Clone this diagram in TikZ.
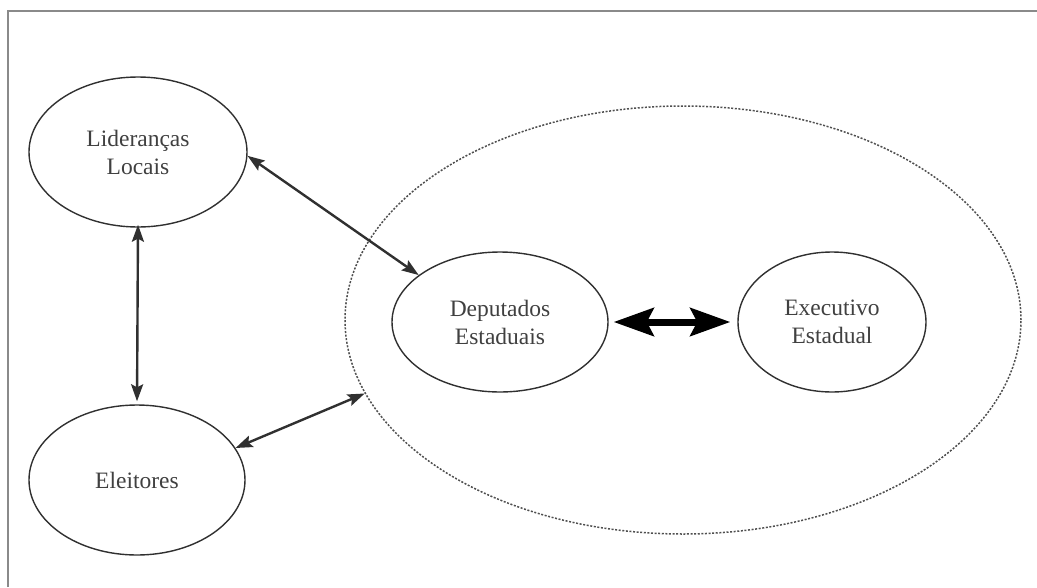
\documentclass[tikz,border=0pt]{standalone}
\usepackage{fontspec}
\setmainfont{Liberation Serif}
\usetikzlibrary{shapes.geometric,arrows.meta}
\definecolor{ink}{HTML}{303030}
\definecolor{txt}{HTML}{404040}
\definecolor{frame}{HTML}{8A8A8A}
\tikzset{
    actor/.style={ellipse, draw=ink, line width=1.4pt, inner sep=0pt, align=center,
        text=txt, font=\fontsize{23.5}{28}\selectfont},
    link/.style={{Stealth[length=17pt,width=12pt,inset=3pt]}-{Stealth[length=17pt,width=12pt,inset=3pt]},
        draw=ink, line width=2.4pt},
    biglink/.style={{Stealth[length=40pt,width=28pt,inset=7pt]}-{Stealth[length=40pt,width=28pt,inset=7pt]},
        draw=black, line width=7pt}
}
\begin{document}
\begin{tikzpicture}[x=1pt,y=-1pt]
            \useasboundingbox (0,0) rectangle (1037,587);
            \draw[frame, line width=2pt] (8,587) -- (8,11) -- (1037,11);

            \node[ellipse, draw=ink!85, dash pattern=on 2pt off 1.6pt, line width=1.5pt, minimum width=676pt, minimum height=428pt] (Grp) at (683,320) {};
            \node[actor, minimum width=218pt, minimum height=150pt] (LL) at (138,152) {Lideranças\\Locais};
            \node[actor, minimum width=216pt, minimum height=150pt] (EL) at (137,480) {Eleitores};
            \node[actor, minimum width=216pt, minimum height=140pt] (DE) at (500,322) {Deputados\\Estaduais};
            \node[actor, minimum width=188pt, minimum height=140pt] (EX) at (832,322) {Executivo\\Estadual};

            \draw (LL.-2) edge[link] (DE.150);
            \draw (LL.south) edge[link, shorten <=-3pt, shorten >=3pt] (EL.north);
            \draw (EL.18) edge[link] (Grp.193);
            \draw (DE.east) edge[biglink, shorten <=5pt, shorten >=7pt] (EX.west);
        \end{tikzpicture}
\end{document}
